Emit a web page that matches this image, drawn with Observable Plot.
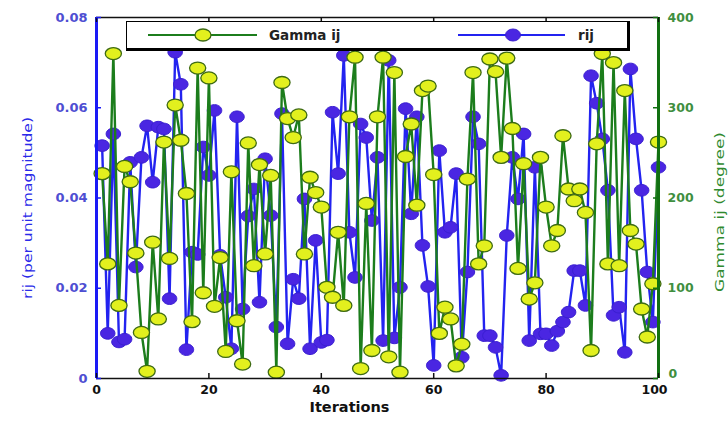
<!DOCTYPE html>
<html><head><meta charset="utf-8">
<script src="https://cdn.jsdelivr.net/npm/d3@7"></script>
<script src="https://cdn.jsdelivr.net/npm/@observablehq/plot@0.6"></script>
<style>
body{margin:0;background:#fff;}
#wrap{position:relative;width:728px;height:424px;font-family:"DejaVu Sans",sans-serif;}
#legend{position:absolute;left:126px;top:21px;width:500px;height:26px;border:1.5px solid #000;border-right-width:3px;border-bottom-width:3px;background:#fff;box-sizing:content-box;}
#legend svg{position:absolute;left:0;top:0;}
</style></head><body><div id="wrap"></div>
<script>
const iterations = [1,2,3,4,5,6,7,8,9,10,11,12,13,14,15,16,17,18,19,20,21,22,23,24,25,26,27,28,29,30,31,32,33,34,35,36,37,38,39,40,41,42,43,44,45,46,47,48,49,50,51,52,53,54,55,56,57,58,59,60,61,62,63,64,65,66,67,68,69,70,71,72,73,74,75,76,77,78,79,80,81,82,83,84,85,86,87,88,89,90,91,92,93,94,95,96,97,98,99,100];
const rij = [0.0516,0.0100,0.0542,0.0081,0.0087,0.0479,0.0247,0.0490,0.0560,0.0435,
0.0557,0.0553,0.0177,0.0723,0.0652,0.0064,0.0280,0.0275,0.0513,0.0450,
0.0594,0.0273,0.0180,0.0066,0.0580,0.0154,0.0360,0.0420,0.0169,0.0487,
0.0361,0.0114,0.0587,0.0077,0.0220,0.0177,0.0398,0.0066,0.0306,0.0080,
0.0085,0.0590,0.0454,0.0716,0.0324,0.0224,0.0564,0.0534,0.0350,0.0490,
0.0084,0.0705,0.0090,0.0202,0.0598,0.0365,0.0580,0.0295,0.0204,0.0029,
0.0505,0.0324,0.0335,0.0454,0.0047,0.0236,0.0580,0.0520,0.0095,0.0095,
0.0069,0.0007,0.0317,0.0490,0.0398,0.0542,0.0084,0.0468,0.0099,0.0099,
0.0073,0.0105,0.0125,0.0147,0.0239,0.0239,0.0162,0.0671,0.0610,0.0531,
0.0417,0.0140,0.0158,0.0058,0.0686,0.0531,0.0417,0.0236,0.0125,0.0468];
const gammaIJ = [227,127,360,81,235,218,139,51,8,151,
66,262,133,303,264,205,63,344,95,333,
80,134,30,229,64,16,261,125,237,138,
225,7,328,288,267,292,138,223,206,190,
101,90,162,81,290,356,11,194,31,290,
356,24,339,7,246,282,192,319,324,226,
50,79,66,14,38,221,339,127,147,354,
340,245,355,277,122,238,88,106,245,190,
147,164,269,210,197,210,184,31,260,360,
127,350,125,319,164,149,77,46,105,262];
const xTicks = [0,20,40,60,80,100];
const rijTicks = [0,0.02,0.04,0.06,0.08];
const gammaTicks = [0,100,200,300,400];
const seriesNames = ["Gamma ij","rij"];
const xLabel = "Iterations";
const yLeftLabel = "rij (per unit magnitude)";
const yRightLabel = "Gamma ij (degree)";

const rijMax = rijTicks[rijTicks.length-1], gammaMax = gammaTicks[gammaTicks.length-1];
const xMax = xTicks[xTicks.length-1];
const g2y = g => g * rijMax / gammaMax;

const BLUE_LINE = "#2323f0", BLUE_DOT = "#4a26e2", BLUE_TXT = "#4e4ed2";
const GREEN_LINE = "#1c7d1c", YELLOW = "#e2f01e", YELLOW_STROKE = "#3d6a14", GREEN_TXT = "#3f8f3f";

function ellipseSymbol(kx){
  return {draw(ctx, size){
    const r = Math.sqrt(size/Math.PI), rx = r*kx, ry = r, k = 0.5523;
    ctx.moveTo(rx,0);
    ctx.bezierCurveTo(rx, ry*k, rx*k, ry, 0, ry);
    ctx.bezierCurveTo(-rx*k, ry, -rx, ry*k, -rx, 0);
    ctx.bezierCurveTo(-rx, -ry*k, -rx*k, -ry, 0, -ry);
    ctx.bezierCurveTo(rx*k, -ry, rx, -ry*k, rx, 0);
    ctx.closePath();
  }};
}
const ellY = ellipseSymbol(1.35), ellB = ellipseSymbol(1.25);

const rows = iterations.map((it,i)=>({it, r: rij[i], g: g2y(gammaIJ[i])}));
const W = 728 - 96 - 70, H = 424 - 17 - 46;
const xTxt = {fill: "#111", fontSize: 12.5, fontWeight: "bold", frameAnchor: "bottom", dy: 15, text: d=>String(d)};
const gTxt = {fill: GREEN_TXT, fontSize: 12.5, fontWeight: "bold", frameAnchor: "right", textAnchor: "start", text: d=>String(d)};

const chart = Plot.plot({
  width: 728, height: 424,
  marginLeft: 96, marginRight: 70, marginTop: 17, marginBottom: 46,
  x: {domain: [0,xMax], axis: null},
  y: {domain: [0,rijMax], axis: null},
  style: {fontFamily: "DejaVu Sans, sans-serif", background: "transparent"},
  marks: [
    Plot.line(rows, {x: "it", y: "r", stroke: BLUE_LINE, strokeWidth: 2.4}),
    Plot.dot(rows, {x: "it", y: "r", r: 5.8, symbol: ellB, fill: BLUE_DOT, stroke: "#3a1fd0", strokeWidth: 1}),
    Plot.line(rows, {x: "it", y: "g", stroke: GREEN_LINE, strokeWidth: 2.4}),
    Plot.dot(rows, {x: "it", y: "g", r: 6, symbol: ellY, fill: YELLOW, stroke: YELLOW_STROKE, strokeWidth: 1.3}),
    Plot.ruleY([rijMax], {stroke: "#111", strokeWidth: 1.6}),
    Plot.ruleY([0], {stroke: "#111", strokeWidth: 1.6}),
    Plot.ruleX([0], {stroke: "#1a1af5", strokeWidth: 3}),
    Plot.ruleX([xMax], {stroke: "#117011", strokeWidth: 3}),
    Plot.tickX(xTicks, {x: d=>d, insetTop: H-5, stroke: "#111", strokeWidth: 1.5}),
    Plot.tickX(xTicks, {x: d=>d, insetBottom: H-5, stroke: "#111", strokeWidth: 1.5}),
    Plot.tickY(rijTicks, {y: d=>d, insetRight: W-5, stroke: "#1a1af5", strokeWidth: 1.5}),
    Plot.tickY(gammaTicks, {y: d=>g2y(d), insetLeft: W-5, stroke: "#117011", strokeWidth: 1.5}),
    // x tick labels (last one nudged left as in the reference)
    Plot.text(xTicks.slice(0,-1), {...xTxt, x: d=>d}),
    Plot.text(xTicks.slice(-1), {...xTxt, x: d=>d, dx: -4}),
    Plot.text(rijTicks, {y: d=>d, frameAnchor: "left", dx: -9, textAnchor: "end", text: d=> d===0 ? "0" : d.toFixed(2), fill: BLUE_TXT, fontSize: 13, fontWeight: "bold"}),
    // right tick labels (bottom one lifted slightly as in the reference)
    Plot.text(gammaTicks.slice(1), {...gTxt, y: d=>g2y(d), dx: 9}),
    Plot.text(gammaTicks.slice(0,1), {...gTxt, y: d=>g2y(d), dx: 10, dy: -5}),
    Plot.text([xLabel], {frameAnchor: "bottom", dx: -28, dy: 33, text: d=>d, fill: "#111", fontSize: 14.5, fontWeight: "bold"}),
    Plot.text([yLeftLabel], {frameAnchor: "left", dx: -68, dy: 10, rotate: -90, textAnchor: "middle", text: d=>d, fill: "#2a2ae8", fontSize: 12}),
    Plot.text([yRightLabel], {frameAnchor: "right", dx: 62, dy: 14, rotate: -90, textAnchor: "middle", text: d=>d, fill: "#2f8a2f", fontSize: 12})
  ]
});
d3.select(chart).selectAll("text").each(function(){
  const t = this.textContent;
  if (t === yLeftLabel) d3.select(this).attr("textLength", 182).attr("lengthAdjust", "spacingAndGlyphs");
  if (t === yRightLabel) d3.select(this).attr("textLength", 160).attr("lengthAdjust", "spacingAndGlyphs");
});
const wrap = document.getElementById("wrap");
wrap.appendChild(chart);

const leg = document.createElement("div");
leg.id = "legend";
const ls = d3.create("svg").attr("width", 500).attr("height", 26);
function ellipsePath(cx, cy, rx, ry){ return `M${cx+rx},${cy}A${rx},${ry} 0 1,1 ${cx-rx},${cy}A${rx},${ry} 0 1,1 ${cx+rx},${cy}Z`; }
ls.append("line").attr("x1",21).attr("x2",130).attr("y1",13).attr("y2",13).attr("stroke",GREEN_LINE).attr("stroke-width",2);
ls.append("path").attr("d", ellipsePath(76,13,8,6)).attr("fill",YELLOW).attr("stroke",YELLOW_STROKE).attr("stroke-width",1.3);
ls.append("text").attr("x",142).attr("y",18).attr("font-size",13.5).attr("font-weight","bold").attr("fill","#222").attr("font-family","DejaVu Sans, sans-serif").text(seriesNames[0]);
ls.append("line").attr("x1",331).attr("x2",438).attr("y1",13).attr("y2",13).attr("stroke",BLUE_LINE).attr("stroke-width",2);
ls.append("path").attr("d", ellipsePath(386,13,7.5,6)).attr("fill",BLUE_DOT).attr("stroke","#3a1fd0").attr("stroke-width",1);
ls.append("text").attr("x",451).attr("y",18).attr("font-size",13.5).attr("font-weight","bold").attr("fill","#222").attr("font-family","DejaVu Sans, sans-serif").text(seriesNames[1]);
leg.appendChild(ls.node());
wrap.appendChild(leg);
</script>
</body></html>
